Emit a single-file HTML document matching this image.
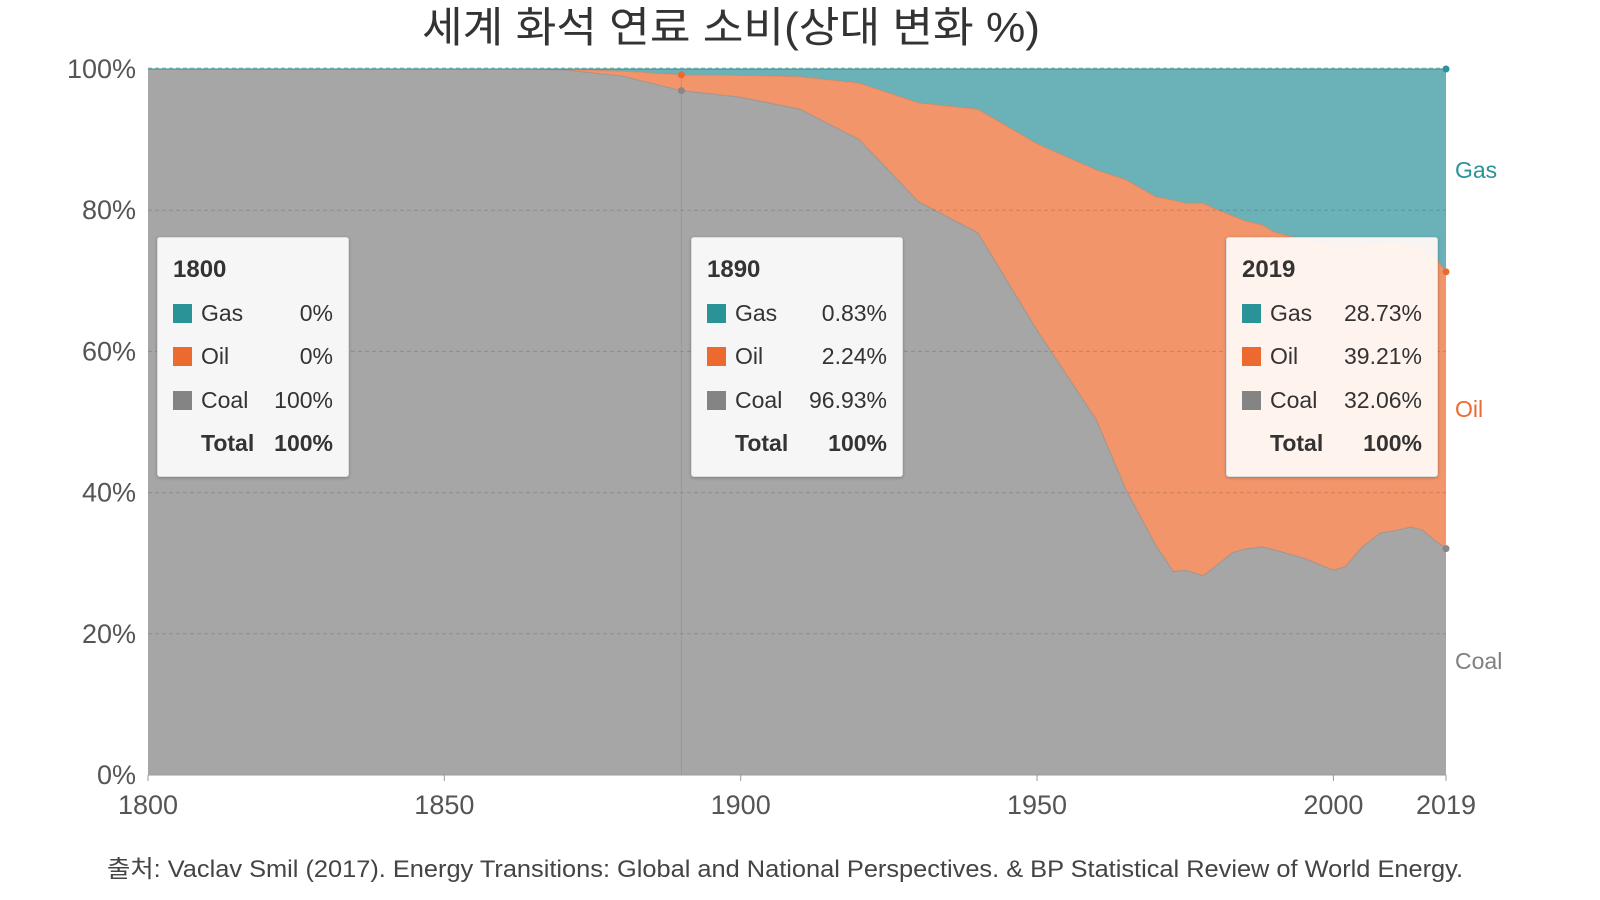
<!DOCTYPE html>
<html><head><meta charset="utf-8">
<style>
body{margin:0;background:#fff;font-family:"Liberation Sans","Noto Sans CJK KR",sans-serif;}
#wrap{position:relative;width:1600px;height:900px;overflow:hidden;}
.tip{position:absolute;width:210px;height:238px;background:rgba(250,250,250,0.95);border:1px solid #ddd;border-radius:3px;box-shadow:0 1px 3px rgba(0,0,0,0.25);color:#333;}
.tip .yr{position:absolute;left:15px;top:18px;font-size:24px;font-weight:bold;}
.row{position:absolute;left:15px;right:15px;height:30px;font-size:23px;}
.row .sw{position:absolute;left:0;top:4px;width:19px;height:19px;}
.row .nm{position:absolute;left:28px;top:0;}
.row .vl{position:absolute;right:0;top:0;}
</style></head><body>
<div id="wrap">
<svg id="svg" width="1600" height="900"></svg>
</div>
<script>
const years=[1800,1865,1870,1880,1890,1900,1910,1920,1930,1940,1950,1960,1965,1970,1973,1975,1978,1980,1983,1985,1988,1990,1995,2000,2002,2005,2008,2011,2013,2015,2017,2019];
const coal=[100,100,99.9,99,96.93,96,94.3,90,81.2,76.8,63,50.3,40.4,32.6,28.8,29,28.2,29.5,31.5,32,32.3,31.9,30.7,29,29.5,32.4,34.3,34.7,35.1,34.7,33.3,32.06];
const gas=[0,0,0.05,0.3,0.83,0.9,1.1,2,4.8,5.7,10.6,14.3,15.7,18.1,18.6,19,19,19.8,20.8,21.5,22.1,23.1,24.2,25,25,24.9,24.7,24.6,25.2,25.6,26.5,28.73];
const yTicks=[0,20,40,60,80,100];
const xTicks=[1800,1850,1900,1950,2000,2019];
const tips=[
 {year:1800,gas:"0%",oil:"0%",coal:"100%",left:157},
 {year:1890,gas:"0.83%",oil:"2.24%",coal:"96.93%",left:691},
 {year:2019,gas:"28.73%",oil:"39.21%",coal:"32.06%",left:1226}
];
const X0=148,X1=1446,Y0=775,Y1=69;
const xs=y=>X0+(y-1800)/(2019-1800)*(X1-X0);
const ys=p=>Y0-p/100*(Y0-Y1);
const NS="http://www.w3.org/2000/svg";
const svg=document.getElementById('svg');
function mk(t,a,p){const e=document.createElementNS(NS,t);for(const k in a)e.setAttribute(k,a[k]);(p||svg).appendChild(e);return e;}
function txt(s,a){const e=mk('text',a);e.textContent=s;return e;}
const top100=years.map(y=>xs(y)+','+ys(100));
const oilTop=years.map((y,i)=>xs(y)+','+ys(100-gas[i]));
const coalTop=years.map((y,i)=>xs(y)+','+ys(coal[i]));
const base=[xs(2019)+','+Y0,xs(1800)+','+Y0];
let e;
e=mk('polygon',{points:top100.concat(oilTop.slice().reverse()).join(' '),fill:'#6ab2b8'});

e=mk('polygon',{points:oilTop.concat(coalTop.slice().reverse()).join(' '),fill:'#f2956b'});

e=mk('polygon',{points:coalTop.concat(base).join(' '),fill:'#a6a6a6'});

mk('polyline',{points:oilTop.join(' '),fill:'none',stroke:'#e07a50','stroke-width':1,opacity:0.6});
mk('polyline',{points:coalTop.join(' '),fill:'none',stroke:'#888','stroke-width':1,opacity:0.6});
mk('line',{x1:X0,x2:X1,y1:ys(100),y2:ys(100),stroke:'#2a9398','stroke-width':1});
yTicks.forEach(t=>{
 if(t>0&&t<100){e=mk('line',{x1:X0,x2:X1,y1:ys(t),y2:ys(t),stroke:'#000','stroke-opacity':0.15,'stroke-dasharray':'4,3'});
 }
 if(t==100){mk('line',{x1:X0,x2:X1,y1:ys(t)-1,y2:ys(t)-1,stroke:'#bbb','stroke-dasharray':'4,3'});}
 e=txt(t+'%',{x:136,y:ys(t)+9,'text-anchor':'end','font-size':27,fill:'#555'});
 
});
mk('line',{x1:X0,x2:X1,y1:Y0,y2:Y0,stroke:'#999'});
xTicks.forEach(t=>{
 mk('line',{x1:xs(t),x2:xs(t),y1:Y0,y2:Y0+6,stroke:'#999'});
 e=txt(String(t),{x:xs(t),y:814,'text-anchor':'middle','font-size':27,fill:'#555'});
 
});
mk('line',{x1:xs(1890),x2:xs(1890),y1:Y1,y2:Y0,stroke:'#888','stroke-opacity':0.4});
[[1890,coal[4]],[1890,100-gas[4]],[2019,coal[coal.length-1]],[2019,100-gas[gas.length-1]],[2019,100]].forEach((d,i)=>{
 mk('circle',{cx:xs(d[0]),cy:ys(d[1]),r:3.5,fill:i==4?'#2a9398':(i%2==0?'#888':'#ec6a30')});
});
[['Gas',170,'#2a9398'],['Oil',409,'#ec6a30'],['Coal',661,'#7f7f7f']].forEach(l=>{
 e=txt(l[0],{x:1455,y:l[1]+8,'font-size':23,fill:l[2]});
 
});
e=txt('세계 화석 연료 소비(상대 변화 %)',{x:731,y:42,'text-anchor':'middle','font-size':42,fill:'#333',textLength:618,lengthAdjust:'spacingAndGlyphs'});

e=txt('출처: Vaclav Smil (2017). Energy Transitions: Global and National Perspectives. & BP Statistical Review of World Energy.',{x:785,y:877,'text-anchor':'middle','font-size':24,fill:'#444',textLength:1356,lengthAdjust:'spacingAndGlyphs'});

const wrap=document.getElementById('wrap');
tips.forEach(t=>{
 const d=document.createElement('div');d.className='tip';d.style.left=t.left+'px';d.style.top='237px';
 if(t.year==1800)d.style.width='190px';
 if(t.year==2019)d.style.background='rgba(255,248,245,0.95)';
 
 
 let h='<div class="yr">'+t.year+'</div>';
 [['Gas',t.gas,'#2a9398',62],['Oil',t.oil,'#ec6a30',105],['Coal',t.coal,'#848484',149]].forEach(r=>{
  h+='<div class="row" style="top:'+r[3]+'px"><span class="sw" style="background:'+r[2]+'"></span><span class="nm">'+r[0]+'</span><span class="vl">'+r[1]+'</span></div>';
 });
 h+='<div class="row" style="top:192px;font-weight:bold"><span class="nm">Total</span><span class="vl">100%</span></div>';
 d.innerHTML=h;wrap.appendChild(d);
});
</script>
</body></html>
